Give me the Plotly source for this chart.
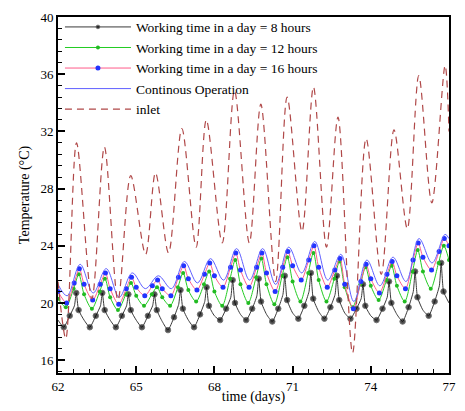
import plotly.graph_objects as go

days = [62, 63, 64, 65, 66, 67, 68, 69, 70, 71, 72, 73, 74, 75, 76]

# Inlet temperature key points (time, value)
inlet_t = [62.0, 62.3, 62.71, 63.3, 63.78, 64.3, 64.79, 65.36, 65.74, 66.24, 66.75, 67.3,
           67.69, 68.3, 68.77, 69.34, 69.78, 70.35, 70.79, 71.36, 71.8, 72.3, 72.74, 73.3,
           73.82, 74.4, 74.89, 75.4, 75.84, 76.34, 76.85, 77.0]
inlet_v = [21.5, 17.5, 31.2, 20.3, 30.9, 20.2, 28.9, 23.4, 29.1, 23.5, 32.2, 23.9,
           32.8, 24.2, 34.85, 24.2, 33.9, 21.5, 34.4, 25.0, 35.1, 23.9, 33.0, 16.5,
           31.5, 22.0, 32.1, 25.2, 35.9, 27.0, 36.6, 32.0]

# 8 hours: phases within each day and values per day
black_phase = [0.22, 0.45, 0.63, 0.70, 0.79, 1.0]
black_msize = [5.5, 5.5, 0, 5.5, 5.5, 0]
black_start = 18.8
black_rows = [
    [18.3, 19.1, 19.8, 20.7, 19.5, 18.8],
    [18.3, 19.1, 19.8, 20.7, 19.5, 18.8],
    [18.3, 19.1, 19.8, 20.6, 19.5, 18.8],
    [18.3, 19.1, 19.8, 20.6, 19.5, 18.7],
    [18.1, 19.0, 19.9, 20.9, 19.6, 18.8],
    [18.3, 19.2, 20.1, 21.1, 19.8, 19.1],
    [18.8, 19.6, 20.4, 21.6, 20.0, 19.2],
    [18.8, 19.6, 20.5, 21.7, 20.1, 19.2],
    [18.7, 19.6, 20.6, 21.9, 20.2, 19.3],
    [18.9, 19.8, 20.8, 22.1, 20.3, 19.4],
    [18.9, 19.7, 20.6, 21.9, 20.2, 19.3],
    [18.9, 19.6, 20.3, 21.3, 19.8, 19.1],
    [18.8, 19.6, 20.4, 21.5, 20.0, 19.2],
    [18.7, 19.7, 20.8, 22.2, 20.4, 19.5],
    [19.1, 20.1, 21.2, 22.8, 20.8, 20.0],
]

# 12 hours
green_phase = [0.30, 0.60, 0.80, 1.0]
green_start = 20.3
green_rows = [
    [19.7, 21.0, 22.0, 20.6],
    [19.6, 20.8, 21.7, 20.4],
    [19.5, 20.6, 21.4, 20.5],
    [19.8, 20.6, 21.1, 20.4],
    [19.8, 21.1, 22.1, 20.9],
    [20.1, 21.3, 22.2, 20.8],
    [19.8, 21.7, 23.0, 21.3],
    [20.0, 21.8, 23.1, 21.3],
    [19.9, 21.9, 23.2, 21.5],
    [20.1, 22.1, 23.5, 21.6],
    [20.1, 21.7, 22.9, 21.1],
    [19.7, 21.3, 22.5, 21.2],
    [20.2, 21.6, 22.6, 21.2],
    [20.1, 22.2, 23.7, 22.2],
    [21.0, 22.8, 24.0, 23.0],
]

# 16 hours
mag_phase = [0.33, 0.62, 0.82, 1.0]
mag_start = 20.8
mag_rows = [
    [20.0, 21.4, 22.4, 21.3],
    [20.2, 21.3, 22.1, 21.0],
    [19.9, 21.0, 21.8, 21.1],
    [20.5, 21.2, 21.6, 21.0],
    [20.5, 21.8, 22.6, 21.7],
    [20.9, 22.0, 22.8, 21.9],
    [21.1, 22.5, 23.5, 22.3],
    [21.1, 22.5, 23.5, 22.1],
    [20.8, 22.5, 23.6, 22.6],
    [21.6, 23.0, 24.0, 22.5],
    [21.1, 22.3, 23.1, 21.3],
    [19.6, 21.5, 22.7, 21.7],
    [20.7, 22.0, 22.9, 21.9],
    [21.0, 23.0, 24.2, 23.2],
    [22.3, 23.6, 24.5, 24.0],
]

# Continuous operation
blue_phase = [0.35, 0.85]
blue_start = 21.3
blue_end = 24.5
blue_rows = [
    [20.5, 22.7], [20.7, 22.4], [20.4, 22.1], [21.0, 21.9], [21.0, 22.9],
    [21.4, 23.1], [21.6, 23.8], [21.6, 23.8], [21.3, 23.9], [22.1, 24.3],
    [21.6, 23.4], [20.1, 23.0], [21.2, 23.2], [21.5, 24.5], [22.8, 24.8],
]

x_ticks = [62, 65, 68, 71, 74, 77]
y_ticks = [16, 20, 24, 28, 32, 36, 40]


def build(rows, phases, start, end=None):
    xs, ys = [62.0], [start]
    for d, row in zip(days, rows):
        for p, v in zip(phases, row):
            xs.append(d + p)
            ys.append(v)
    if end is not None:
        xs.append(77.0)
        ys.append(end)
    return xs, ys


bx, by = build(black_rows, black_phase, black_start)
gx, gy = build(green_rows, green_phase, green_start)
mx, my = build(mag_rows, mag_phase, mag_start)
cx, cy = build(blue_rows, blue_phase, blue_start, blue_end)
bsizes = [0] + black_msize * len(days)

fig = go.Figure()
fig.add_trace(go.Scatter(x=bx, y=by, mode="lines+markers", name="Working time in a day = 8 hours",
                         line=dict(color="#3a3a3a", width=1, shape="spline", smoothing=0.5),
                         marker=dict(color="black", size=bsizes, symbol="circle")))
fig.add_trace(go.Scatter(x=gx, y=gy, mode="lines+markers", name="Working time in a day = 12 hours",
                         line=dict(color="#22cc22", width=1, shape="spline", smoothing=0.8),
                         marker=dict(color="#22bb22", size=4, symbol="circle")))
fig.add_trace(go.Scatter(x=mx, y=my, mode="lines+markers", name="Working time in a day = 16 hours",
                         line=dict(color="#ff5a8a", width=1, shape="spline", smoothing=0.8),
                         marker=dict(color="#2233ff", size=5, symbol="circle")))
fig.add_trace(go.Scatter(x=cx, y=cy, mode="lines", name="Continous Operation",
                         line=dict(color="#6060ff", width=1, shape="spline", smoothing=1.0)))
fig.add_trace(go.Scatter(x=inlet_t, y=inlet_v, mode="lines", name="inlet",
                         line=dict(color="#b04848", width=1.2, dash="7px,5px", shape="spline", smoothing=0.9)))

axis_common = dict(showline=True, linecolor="black", linewidth=2, mirror=True,
                   ticks="inside", tickcolor="black", ticklen=7, tickwidth=2,
                   showgrid=False, zeroline=False, automargin=False,
                   ticklabeloverflow="allow",
                   tickfont=dict(family="Liberation Serif", size=13, color="black"))

fig.update_xaxes(range=[62, 77], tickvals=x_ticks,
                 minor=dict(ticks="inside", ticklen=4, tickwidth=1, tickcolor="black", dtick=0.6, tick0=62),
                 title=dict(text="time (days)", font=dict(family="Liberation Serif", size=14, color="black"), standoff=0),
                 **axis_common)
fig.update_yaxes(range=[15.1, 40], tickvals=y_ticks,
                 minor=dict(ticks="inside", ticklen=4, tickwidth=1, tickcolor="black", dtick=0.8, tick0=16),
                 title=dict(text="Temperature (°C)", font=dict(family="Liberation Serif", size=14, color="black"), standoff=8),
                 **axis_common)

fig.update_layout(
    template="none",
    width=449, height=397,
    margin=dict(l=50, r=8, t=4, b=32),
    plot_bgcolor="white", paper_bgcolor="white",
    showlegend=True,
    legend=dict(x=0.005, y=1.015, xanchor="left", yanchor="top",
                bgcolor="rgba(255,255,255,0)", itemwidth=66, tracegroupgap=0,
                font=dict(family="Liberation Serif", size=13.5, color="black")),
)

fig.write_html("out.html")
